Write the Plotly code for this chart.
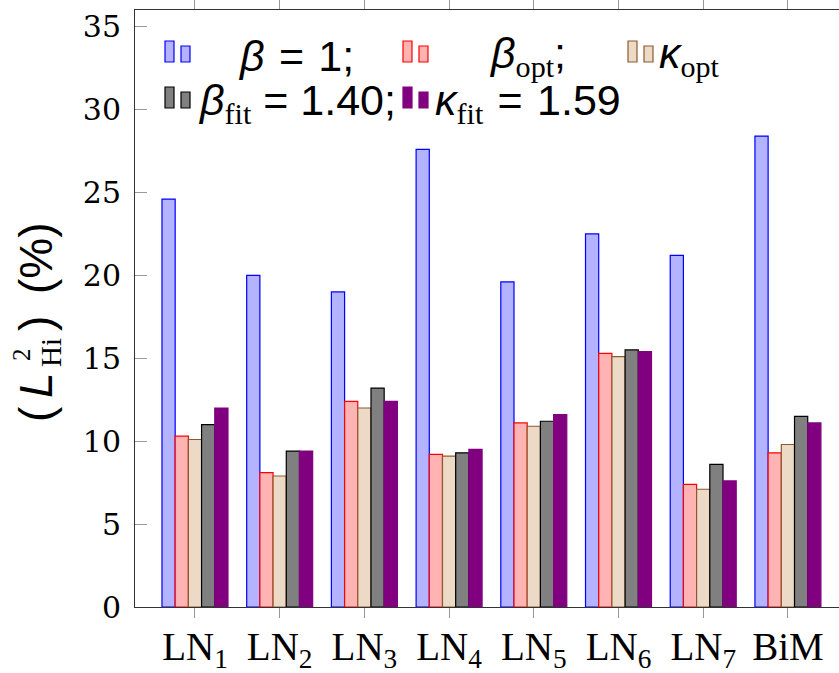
import plotly.graph_objects as go

# Categories and series values (percent)
categories = ["LN1", "LN2", "LN3", "LN4", "LN5", "LN6", "LN7", "BiM"]
category_labels = ["LN<sub>1</sub>", "LN<sub>2</sub>", "LN<sub>3</sub>", "LN<sub>4</sub>",
                   "LN<sub>5</sub>", "LN<sub>6</sub>", "LN<sub>7</sub>", "BiM"]
beta_one = [24.6, 20.0, 19.0, 27.6, 19.6, 22.5, 21.2, 28.4]
beta_opt = [10.3, 8.1, 12.4, 9.2, 11.1, 15.3, 7.4, 9.3]
kappa_opt = [10.1, 7.9, 12.0, 9.1, 10.9, 15.1, 7.1, 9.8]
beta_fit = [11.0, 9.4, 13.2, 9.3, 11.2, 15.5, 8.6, 11.5]
kappa_fit = [12.0, 9.4, 12.4, 9.5, 11.6, 15.4, 7.6, 11.1]
y_ticks = [0, 5, 10, 15, 20, 25, 30, 35]

SERIF = "Liberation Serif"
SANS = "Liberation Sans"
SP = "\u2004"  # slightly wider space around relation signs

series = [
    ("β = 1", beta_one, "#b3b3ff", "#0000ff"),
    ("β_opt", beta_opt, "#ffb3b3", "#ff0000"),
    ("κ_opt", kappa_opt, "#ecdac6", "#8c5a2e"),
    ("β_fit", beta_fit, "#808080", "#000000"),
    ("κ_fit", kappa_fit, "#800080", "#800080"),
]

W, H = 839, 673
L, R, T, B = 135, 0, 10, 66
PW, PH = W - L - R, H - T - B

fig = go.Figure()
for name, vals, fill, edge in series:
    fig.add_trace(go.Bar(
        x=categories, y=vals, name=name,
        marker=dict(color=fill, line=dict(color=edge, width=1.2)),
        showlegend=False,
    ))


def px_x(px):
    return (px - L) / PW


def px_y(py):
    return (H - B - py) / PH


# Hand-built legend: two-bar icons followed by math-style labels
def sub(s):
    return f"<sub><span style='font-family:{SERIF}'>{s}</span></sub>"


legend_rows = [
    [(165, "#b3b3ff", "#0000ff", 236, f"<i>β</i>{SP}={SP}1;"),
     (403, "#ffb3b3", "#ff0000", 487, "<i>β</i>" + sub("opt") + ";"),
     (628, "#ecdac6", "#8c5a2e", 657, "<i>κ</i>" + sub("opt"))],
    [(165, "#808080", "#000000", 196, "<i>β</i>" + sub("fit") + " = 1.40;"),
     (403, "#800080", "#800080", 433, "<i>κ</i>" + sub("fit") + f"{SP}={SP}1.59")],
]
row_geom = [(41, 62, 56), (87, 108, 103)]

shapes = []
annotations = []
for (top, bottom, mid), row in zip(row_geom, legend_rows):
    for icon_x, fill, edge, text_x, text in row:
        for dx, dtop in ((0, 0), (16, 5)):
            shapes.append(dict(
                type="rect", xref="paper", yref="paper",
                x0=px_x(icon_x + dx), x1=px_x(icon_x + dx + 9),
                y0=px_y(bottom), y1=px_y(top + dtop),
                fillcolor=fill, line=dict(color=edge, width=1.2),
            ))
        annotations.append(dict(
            xref="paper", yref="paper", x=px_x(text_x), y=px_y(mid),
            xanchor="left", yanchor="middle", showarrow=False,
            text=text, font=dict(family=SANS, size=43, color="#000"),
        ))

# Rotated axis title, the superscript stacked over the subscript
title_font = dict(family=SANS, size=46, color="#000")
title_parts = [
    (36, 414, "(", title_font),
    (36, 385, "<i>L</i>", title_font),
    (22, 355, "2", dict(family=SERIF, size=25, color="#000")),
    (51, 353, "Hi", dict(family=SERIF, size=29, color="#000")),
    (36, 324, ")", title_font),
    (36, 258, "(%)", title_font),
]
for tx, ty, text, font in title_parts:
    annotations.append(dict(
        xref="paper", yref="paper", x=px_x(tx), y=px_y(ty),
        xanchor="center", yanchor="middle", textangle=-90, showarrow=False,
        text=text, font=font,
    ))

fig.update_layout(
    width=W, height=H,
    margin=dict(l=L, r=R, t=T, b=B, pad=0),
    paper_bgcolor="white", plot_bgcolor="white",
    barmode="group", bargap=0.221, bargroupgap=0,
    shapes=shapes, annotations=annotations,
    xaxis=dict(
        type="category", range=[-0.708, 7.603], automargin=False,
        tickmode="array", tickvals=categories, ticktext=category_labels,
        ticks="outside", ticklen=10, tickcolor="#999", tickwidth=1,
        showline=True, linecolor="#333", linewidth=1, mirror="ticks",
        showgrid=False, zeroline=False, ticklabelstandoff=-5,
        tickfont=dict(family=SERIF, size=39, color="#000"),
    ),
    yaxis=dict(
        range=[0, 36], tickmode="array", tickvals=y_ticks, automargin=False,
        ticks="inside", ticklen=12, tickcolor="#999", tickwidth=1,
        showline=True, linecolor="#333", linewidth=1,
        showgrid=False, zeroline=False, ticklabelstandoff=7,
        tickfont=dict(family="DejaVu Serif", size=30, color="#000"),
    ),
)

fig.write_html("out.html")
